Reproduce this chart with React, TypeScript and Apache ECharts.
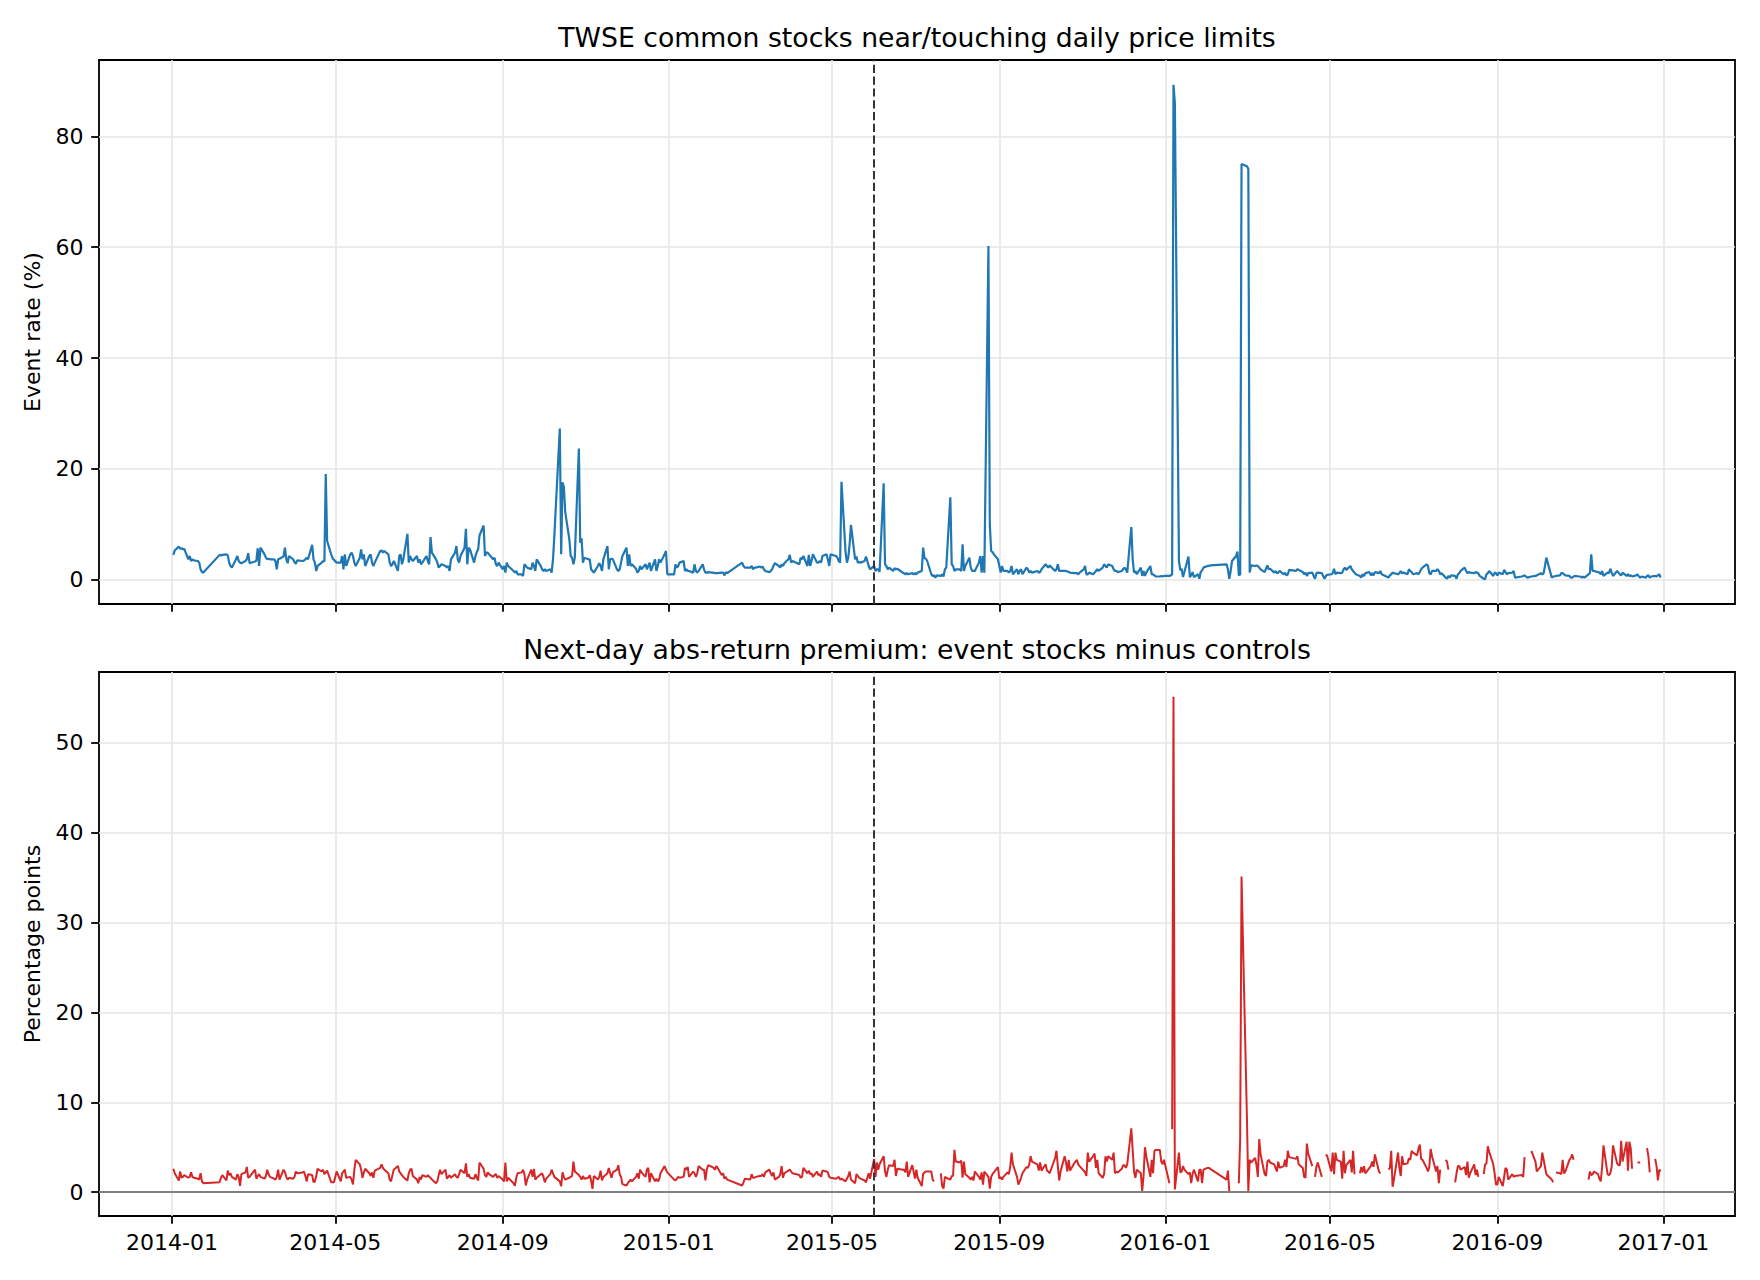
import React, { useEffect, useRef } from 'react';
import * as echarts from 'echarts';

type V = number | null;

const TITLE_TOP = 'TWSE common stocks near/touching daily price limits';
const TITLE_BOTTOM = 'Next-day abs-return premium: event stocks minus controls';
const Y_NAME_TOP = 'Event rate (%)';
const Y_NAME_BOTTOM = 'Percentage points';
const EVENT_DATE = '2015-06-01';

const X_TICKS = ['2014-01', '2014-05', '2014-09', '2015-01', '2015-05', '2015-09', '2016-01', '2016-05', '2016-09', '2017-01'];
const RATE_TICKS = [0, 20, 40, 60, 80];
const PREM_TICKS = [0, 10, 20, 30, 40, 50];

// exchange closing days (calendar used to place the daily values)
const CLOSED_DAYS = [
  '2014-01-01', '2014-01-27', '2014-01-28', '2014-01-29', '2014-01-30', '2014-01-31', '2014-02-03', '2014-02-04',
  '2014-02-28', '2014-04-04', '2014-05-01', '2014-06-02', '2014-09-08', '2014-10-10',
  '2015-01-01', '2015-01-02', '2015-02-16', '2015-02-17', '2015-02-18', '2015-02-19', '2015-02-20', '2015-02-23',
  '2015-02-27', '2015-04-03', '2015-04-06', '2015-05-01', '2015-06-19', '2015-09-28', '2015-10-09',
  '2016-01-01', '2016-02-04', '2016-02-05', '2016-02-08', '2016-02-09', '2016-02-10', '2016-02-11', '2016-02-12',
  '2016-02-29', '2016-04-04', '2016-04-05', '2016-06-09', '2016-06-10', '2016-09-15', '2016-09-16', '2016-09-27',
  '2016-09-28', '2016-10-10',
];

// Event rate (%), one array per month, one value per trading day
const rate2014: V[][] = [
  [4.5, 5.3, 6.0, 5.6, 5.7, 5.5, 5.6, 3.7, 4.3, 3.4, 3.7, 3.5, 3.4, 3.1, 1.9, 1.4, 1.3],
  [4.5, 4.4, 4.5, 4.6, 4.4, 3.1, 2.5, 2.2, 3.7, 4.3, 3.4, 3.1, 3.0, 3.4, 3.7, 4.8, 3.0],
  [3.3, 3.5, 5.7, 2.5, 5.8, 4.6, 4.0, 3.7, 3.8, 3.7, 3.7, 3.4, 1.9, 3.7, 3.8, 4.2, 5.8, 3.7, 3.0, 4.3, 3.7],
  [3.2, 2.9, 3.5, 3.4, 3.5, 3.7, 4.0, 3.7, 6.3, 3.7, 3.1, 1.6, 2.5, 3.1, 3.4, 3.3, 19.1, 7.0, 4.6, 3.9, 3.6],
  [3.1, 3.1, 4.3, 1.9, 4.6, 2.5, 4.6, 4.9, 4.3, 3.1, 2.5, 4.0, 5.5, 3.7, 4.6, 2.5, 4.3, 4.6, 3.1, 2.5, 3.1],
  [5.2, 5.3, 4.9, 5.2, 4.6, 3.1, 2.5, 2.8, 3.4, 1.6, 4.3, 4.6, 2.8, 3.7, 8.3, 3.1, 4.3, 3.7, 3.4, 4.3],
  [3.1, 3.7, 2.8, 3.1, 4.3, 3.4, 2.8, 7.7, 4.9, 3.7, 3.1, 2.2, 2.5, 2.8, 2.5, 2.2, 2.5, 1.6, 3.7, 4.9, 6.1, 3.7, 3.1],
  [4.3, 5.8, 9.2, 2.8, 5.8, 5.5, 3.1, 4.3, 5.0, 5.5, 8.0, 9.8, 4.3, 4.9, 4.9, 4.6, 3.7, 4.0, 2.8, 2.5, 3.1],
  [1.9, 2.5, 1.3, 3.1, 2.5, 1.6, 1.3, 1.6, 1.0, 1.0, 0.7, 2.8, 2.5, 2.2, 1.9, 3.1, 2.5, 1.6, 3.7, 2.5, 1.9],
  [1.6, 1.9, 1.6, 1.9, 1.3, 3.7, 8.0, 27.3, 4.6, 17.6, 16.7, 12.2, 7.3, 4.3, 4.0, 2.8, 4.0, 23.7, 6.7, 7.5, 3.1, 4.0],
  [3.7, 3.7, 1.9, 1.6, 1.3, 2.5, 3.0, 2.5, 1.6, 3.7, 6.1, 1.9, 3.7, 3.8, 3.7, 1.9, 1.6, 1.9, 3.1, 4.3],
  [5.8, 2.5, 4.6, 2.5, 2.8, 2.0, 1.3, 1.6, 2.5, 1.9, 2.8, 1.9, 2.5, 3.1, 1.6, 3.7, 1.6, 2.5, 3.7, 3.1, 4.6, 5.2, 1.0],
];
const rate2015: V[][] = [
  [1.0, 2.8, 2.2, 2.5, 3.1, 3.4, 1.6, 1.9, 1.6, 1.6, 1.3, 2.8, 1.6, 1.3, 1.6, 2.8, 1.9, 1.3, 1.3, 1.4],
  [1.3, 1.3, 1.2, 1.2, 1.2, 1.3, 1.3, 0.8, 1.4, 1.2, 3.1, 2.5, 2.2],
  [2.2, 2.5, 1.9, 2.2, 2.2, 2.4, 2.2, 2.4, 1.9, 1.6, 1.4, 1.6, 1.9, 2.5, 3.0, 2.5, 2.2, 2.8, 2.5, 3.0, 3.7, 4.5],
  [3.1, 3.4, 2.8, 4.0, 3.7, 4.3, 2.5, 4.5, 2.5, 3.4, 4.6, 3.1, 3.1, 3.4, 3.1, 4.3, 4.6, 3.7, 2.5, 4.6],
  [4.3, 4.0, 3.4, 3.1, 17.7, 5.0, 3.1, 4.0, 6.5, 9.9, 3.7, 4.2, 3.1, 3.2, 3.1, 3.4, 4.2, 3.4, 2.5, 1.9],
  [2.5, 1.6, 1.9, 1.9, 1.4, 17.4, 2.8, 2.5, 1.9, 2.2, 1.6, 2.1, 1.9, 2.0, 1.3, 1.2, 1.0, 1.2, 1.0, 1.2, 1.0],
  [1.2, 1.0, 1.3, 1.6, 5.8, 3.9, 3.8, 3.4, 1.0, 0.7, 0.8, 0.4, 0.8, 0.7, 1.0, 0.6, 1.9, 2.2, 14.9, 2.8, 2.5, 1.6, 1.9],
  [1.9, 1.6, 6.4, 1.6, 2.5, 4.0, 2.2, 1.6, 1.6, 1.6, 3.1, 4.3, 1.3, 4.3, 1.3, 60.2, 10.0, 5.2, 5.0, 4.6, 3.7],
  [2.5, 1.3, 2.5, 1.6, 1.6, 1.3, 1.6, 2.5, 1.0, 1.9, 1.0, 1.6, 1.9, 1.0, 2.2, 1.9, 1.3, 1.6, 1.3, 1.6, 1.3],
  [1.4, 1.9, 2.8, 2.5, 2.2, 2.6, 1.6, 1.9, 2.8, 1.6, 1.6, 1.6, 1.6, 1.5, 1.4, 1.3, 1.2, 1.2, 1.2, 1.0, 1.3],
  [1.9, 2.5, 1.0, 1.0, 1.3, 1.0, 1.3, 1.6, 1.9, 1.6, 2.2, 2.8, 2.5, 2.2, 2.8, 2.5, 1.9, 1.6, 1.6, 1.4, 1.6],
  [1.9, 2.2, 1.9, 1.3, 9.5, 3.7, 1.3, 1.6, 1.0, 2.2, 0.7, 1.6, 0.7, 1.3, 2.5, 1.0, 1.0, 0.8, 0.6, 0.6, 0.7, 0.6, 0.7],
];
const rate2016: V[][] = [
  [0.7, 0.8, 1.0, 89.3, 86.0, 3.4, 1.7, 2.0, 0.5, 1.4, 4.2, 0.5, 0.8, 1.4, 0.5, 1.0, 0.2, 1.4, 1.7, 2.2],
  [2.5, 2.5, 2.6, 2.8, 1.9, 0.2, 1.6, 3.4, 4.3, 5.1, 0.8, 1.0, 75.0],
  [74.6, 74.1, 1.3, 2.6, 2.5, 2.6, 2.5, 2.2, 1.9, 1.4, 2.0, 2.6, 1.9, 2.0, 1.3, 1.6, 1.2, 1.3, 1.6, 1.0, 1.3, 0.8, 1.0],
  [1.8, 1.6, 1.9, 1.8, 1.4, 1.0, 1.3, 0.7, 1.2, 1.3, 0.7, 0.2, 1.2, 1.3, 1.2, 0.7, 0.2, 0.7, 0.9],
  [1.0, 1.2, 2.0, 1.0, 1.3, 1.2, 1.3, 1.9, 2.2, 1.8, 2.5, 1.9, 1.6, 1.3, 1.0, 0.7, 0.4, 1.0, 0.7, 1.2, 1.4, 0.8],
  [1.2, 0.8, 1.4, 1.2, 1.6, 1.0, 0.4, 0.8, 1.0, 1.3, 1.2, 1.0, 1.2, 1.6, 1.2, 1.3, 1.0, 1.9, 1.6, 1.4],
  [1.0, 1.2, 1.0, 1.4, 1.9, 2.2, 2.8, 2.5, 1.2, 1.0, 1.6, 1.6, 1.9, 1.6, 1.0, 1.2, 0.4, 0.2, 0.7, 0.4, 0.8],
  [0.7, 0.2, 1.0, 1.2, 1.6, 2.2, 1.6, 1.2, 1.4, 1.3, 1.2, 1.4, 1.3, 1.2, 0.7, 0.2, 0.1, 1.0, 1.2, 1.6, 0.7, 1.3, 1.2],
  [0.8, 1.3, 1.0, 1.8, 1.4, 1.0, 1.2, 1.3, 1.6, 0.4, 0.6, 0.7, 0.8, 0.6, 0.4, 0.6, 0.7, 0.8],
  [1.2, 1.0, 1.2, 2.5, 4.0, 0.4, 0.6, 0.6, 0.7, 0.8, 1.2, 1.2, 1.0, 0.8, 0.7, 0.4, 0.4, 0.6, 0.7, 0.6],
  [0.6, 0.4, 0.6, 0.4, 1.0, 1.2, 4.6, 1.6, 1.6, 1.4, 1.3, 1.0, 1.6, 0.7, 1.3, 1.2, 2.0, 1.3, 0.7, 1.6, 1.3, 1.0],
  [0.8, 1.3, 0.7, 1.0, 0.7, 0.8, 0.6, 0.8, 1.0, 0.6, 0.4, 0.6, 0.4, 0.7, 0.8, 0.4, 0.6, 0.7, 0.6, 0.8, 1.0, 0.4],
];

// Next-day abs-return premium (pp), one array per month; null = missing
const prem2014: V[][] = [
  [2.6, 2.1, 1.3, 2.3, 1.6, 1.7, 1.9, 1.6, 1.7, 2.2, 1.7, 1.6, 1.5, 1.4, 2.1, 1.2, 1.0],
  [1.1, 1.6, 1.9, 1.3, 2.4, 1.9, 2.1, 1.7, 1.4, 2.0, 1.7, 0.7, 2.0, 2.2, 2.8, 1.6, 1.7],
  [2.5, 1.5, 1.8, 2.0, 1.7, 1.5, 1.8, 2.5, 2.0, 1.7, 1.5, 1.4, 1.7, 2.5, 1.4, 2.5, 2.2, 1.7, 1.4, 1.6, 1.5],
  [1.7, 2.3, 2.1, 2.2, 2.3, 1.8, 1.2, 2.0, 1.9, 1.1, 1.2, 1.8, 2.6, 2.3, 2.5, 2.0, 2.2, 2.4, 1.1, 1.1, 1.1],
  [2.3, 1.2, 2.1, 2.3, 2.5, 1.6, 1.7, 1.4, 0.85, 2.5, 3.6, 3.1, 2.5, 1.6, 2.2, 2.6, 2.1, 1.8, 2.2, 1.6, 2.4],
  [2.7, 3.1, 2.7, 2.5, 2.1, 1.4, 1.2, 1.9, 2.5, 2.9, 2.3, 2.1, 1.9, 1.7, 1.3, 2.1, 2.5, 2.6, 1.8, 1.4],
  [1.0, 1.7, 1.4, 1.9, 1.7, 1.9, 1.7, 1.6, 1.4, 1.0, 1.2, 1.9, 2.5, 2.0, 2.5, 1.5, 1.7, 1.9, 1.6, 2.0, 1.7, 1.6, 2.0],
  [2.5, 2.1, 3.2, 1.7, 2.0, 1.6, 1.5, 2.0, 1.6, 1.3, 3.3, 2.6, 1.9, 1.7, 2.2, 2.0, 1.7, 1.9, 2.0, 1.6, 1.8],
  [1.4, 1.2, 3.3, 1.2, 1.6, 1.0, 0.7, 1.6, 2.1, 2.2, 2.5, 2.0, 0.75, 1.4, 2.5, 1.7, 2.6, 1.4, 1.6, 2.0, 2.1],
  [1.7, 1.1, 1.5, 2.0, 2.5, 2.1, 1.7, 1.2, 0.67, 2.2, 1.7, 1.4, 1.6, 1.7, 1.8, 3.4, 2.3, 1.9, 1.7, 1.4, 1.8, 1.5],
  [1.6, 1.9, 1.3, 0.37, 1.8, 1.4, 1.7, 2.4, 1.3, 1.7, 2.1, 2.7, 2.1, 1.6, 2.2, 2.5, 3.0, 2.0, 1.7, 0.9],
  [0.74, 1.0, 1.2, 1.4, 1.2, 1.7, 2.1, 1.5, 2.5, 2.2, 1.7, 2.5, 2.7, 1.1, 2.1, 1.2, 1.5, 1.2, 1.4, 2.1, 2.9, 2.5, 2.2],
];
const prem2015: V[][] = [
  [1.4, 1.3, 1.5, 1.7, 1.6, 1.7, 2.7, 2.5, 2.8, 1.7, 2.3, 2.1, 1.7, 2.1, 2.9, 2.5, 2.5, 1.3, 2.5, 3.0],
  [2.8, 2.7, 2.5, 2.9, 2.7, 1.9, 2.1, 1.5, 1.7, 1.4, 0.74, 1.1, 1.5],
  [1.4, 2.0, 1.6, 1.6, 1.7, 1.8, 1.8, 2.0, 1.7, 2.2, 2.5, 2.1, 1.8, 2.2, 1.4, 1.7, 2.0, 2.9, 1.6, 2.1, 2.4, 2.5],
  [2.3, 2.1, 1.9, 1.6, 1.7, 2.7, 2.1, 2.4, 2.0, 2.1, 1.7, 2.3, 1.9, 2.0, 1.7, 2.4, 2.3, 2.2, 1.7, 1.6],
  [1.5, 1.6, 1.7, 1.4, 1.5, 1.2, 1.5, 1.8, 2.3, 1.4, 1.0, 2.0, 1.8, 1.6, 1.5, 1.3, 1.1, 1.6, 2.1, 1.5],
  [3.7, 1.7, 3.3, 2.5, 3.1, 4.0, 2.3, 1.7, 2.5, 3.0, 2.9, 3.6, 1.8, 2.6, 2.5, 2.5, 2.2, 3.4, 1.7, 3.0, 2.3],
  [1.5, 2.5, 1.6, 0.67, 2.0, 2.2, 2.3, 2.3, 2.3, 1.4, 1.2, null, null, 2.1, 0.67, 0.4, 1.7, 1.6, 1.4, 1.8, 1.8, 4.7, 3.4],
  [3.3, 3.5, 1.6, 3.4, 2.0, 1.6, 1.4, 1.7, 1.3, 2.3, 1.7, 1.4, 2.2, 0.85, 2.3, 1.7, 0.4, 1.7, 2.0, 2.2, 2.8],
  [1.5, 1.7, 1.4, 1.7, 2.2, 2.0, 2.8, 4.4, 3.1, 1.7, 0.85, 1.2, 1.6, 2.1, 2.8, 2.7, 3.1, 4.0, 3.4, 3.1, 2.4],
  [3.3, 2.4, 3.1, 2.4, 2.3, 2.1, 3.8, 4.6, 2.9, 1.3, 2.3, 4.0, 3.3, 2.3, 3.6, 2.4, 3.2, 3.4, 3.6, 3.1, 2.9],
  [2.4, 2.2, 1.8, 4.4, 3.4, 4.0, 4.3, 2.7, 3.6, 2.1, 1.6, 2.0, 4.0, 3.4, 4.0, 3.6, 4.4, 2.1, 2.3, 2.2, 2.6],
  [3.0, 3.0, 2.7, 3.1, 7.1, 4.7, 2.3, 1.6, 2.5, 2.1, 0.1, 1.8, 5.0, 4.0, 1.7, 3.6, 2.1, 4.6, 4.7, 4.7, 3.4, 3.1, 3.6],
];
const prem2016: V[][] = [
  [1.0, null, 7.0, 55.1, 0.3, 4.4, 2.2, 2.3, 2.9, 2.5, 2.0, 2.2, 1.0, 2.0, 2.5, 1.2, 2.5, 2.5, 1.0, 2.5],
  [2.7, 2.7, 2.6, 1.4, 2.4, 0.1, null, null, null, null, 1.0, 5.9, 35.1],
  [8.0, 0.1, 3.6, 3.3, 3.8, 3.0, 1.7, 5.9, 4.2, 2.0, 1.8, 3.4, 3.6, 3.3, 3.1, 2.7, 2.3, 3.4, 2.7, 2.9, 3.6, 2.8, 4.6],
  [3.9, 3.7, 4.0, 3.1, 2.7, 1.7, 1.6, 5.4, 4.3, 2.9, null, 1.7, 2.8, 3.3, 1.7, null, null, 4.2, 4.0],
  [2.3, 4.4, 2.0, 4.4, 3.6, 3.4, 1.5, 4.6, 2.1, 3.0, 3.6, 2.2, 4.6, 2.0, null, 2.1, 2.8, 2.2, 2.9, 2.1, 2.7, 2.9],
  [3.4, 2.8, 4.2, 2.3, 2.1, null, 2.5, 2.7, 4.6, 0.6, 1.4, 4.4, 2.7, 1.8, 4.0, 3.1, 3.2, 3.8, 3.6, 4.6],
  [4.4, 4.1, 4.8, 5.3, 3.7, 3.6, 2.7, 2.3, 2.8, 4.8, 4.0, 2.3, 2.9, 1.0, 2.5, null, 3.6, 3.4, 2.5, null, null],
  [1.1, 2.1, 2.9, 2.9, 2.5, 2.8, 1.9, 3.4, 1.6, 2.1, 3.1, 1.9, 2.5, 1.7, null, 2.0, 3.1, 3.2, 5.1, 4.5, 3.1, 2.1, 0.85],
  [0.85, 1.7, 0.67, 1.7, 2.7, 2.5, 1.4, 2.0, 1.7, 1.8, 1.9, 1.7, 3.9, null, null, 4.6, 3.4, 2.3],
  [2.9, 4.4, 3.6, 2.8, 2.0, 1.4, 1.1, null, 2.2, 2.1, 2.0, 3.6, 2.1, 2.3, 3.6, 3.8, 4.2, 3.6, null, null],
  [null, null, null, null, 1.4, 2.3, 1.9, 2.0, 2.3, 2.0, 1.5, 1.2, 2.8, 5.2, 2.0, 1.9, 2.1, 2.8, 5.2, 3.2, 3.0, 3.0],
  [5.7, 3.4, 5.6, 2.4, 5.6, 4.9, 2.6, null, 3.3, 3.3, 3.3, null, null, 4.9, 4.0, 2.2, null, 3.7, 2.9, 1.3, 2.5, 2.3],
];

const FONT = 'DejaVu Sans';
const BLUE = '#1f77b4';
const RED = '#d62728';

function pad2(n: number) {
  return n < 10 ? '0' + n : '' + n;
}
function toTime(s: string) {
  const p = s.split('-').map(Number);
  return new Date(p[0], p[1] - 1, p[2] || 1).getTime();
}
const closedSet = new Set(CLOSED_DAYS);
function tradingDays(year: number, month: number): number[] {
  const out: number[] = [];
  for (let d = 1; d <= 31; d++) {
    const dt = new Date(year, month, d);
    if (dt.getMonth() !== month) break;
    const wd = dt.getDay();
    if (wd === 0 || wd === 6) continue;
    if (closedSet.has(`${year}-${pad2(month + 1)}-${pad2(d)}`)) continue;
    out.push(dt.getTime());
  }
  return out;
}
function build(years: [number, V[][]][]): [number, V][] {
  const out: [number, V][] = [];
  years.forEach(([y, months]) => {
    months.forEach((vals, m) => {
      const days = tradingDays(y, m);
      const n = vals.length;
      const k = days.length;
      vals.forEach((v, i) => {
        let t: number;
        if (n === k) t = days[i];
        else {
          const f = n <= 1 ? 0 : (i * (k - 1)) / (n - 1);
          const lo = Math.floor(f);
          const hi = Math.min(k - 1, lo + 1);
          t = days[lo] + (days[hi] - days[lo]) * (f - lo);
        }
        out.push([t, v]);
      });
    });
  });
  return out;
}
function yExtent(data: [number, V][]) {
  const vals = data.map((d) => d[1]).filter((v): v is number => v != null);
  const mn = Math.min(...vals);
  const mx = Math.max(...vals);
  const p = (mx - mn) * 0.05;
  return [mn - p, mx + p];
}

const GRID_LEFT = 99;
const GRID_W = 1636;
const GRID_H = 544;
const TOP1 = 60;
const TOP2 = 672;
const TICK_LEN = 7.8;
const AX_W = 1.8;

export default function App() {
  const ref = useRef<HTMLDivElement>(null);
  useEffect(() => {
    if (!ref.current) return;
    const chart = echarts.init(ref.current, undefined, { renderer: 'svg' });
    const rateData = build([[2014, rate2014], [2015, rate2015], [2016, rate2016]]);
    const premData = build([[2014, prem2014], [2015, prem2015], [2016, prem2016]]);
    const t0 = rateData[0][0];
    const t1 = rateData[rateData.length - 1][0];
    const xp = (t1 - t0) * 0.05;
    const xTicks = X_TICKS.map(toTime);
    const [r0, r1] = yExtent(rateData);
    const [p0, p1] = yExtent(premData);
    const evT = toTime(EVENT_DATE);

    const split = { show: true, lineStyle: { color: '#e6e6e6', width: 1.6 } };
    const tickStyle = { color: '#000', width: AX_W };
    const labelBase = { color: '#000', fontSize: 22, fontFamily: FONT };

    const xAxis = (gi: number, showLabel: boolean) => ({
      type: 'value',
      gridIndex: gi,
      position: 'bottom',
      min: t0 - xp,
      max: t1 + xp,
      axisLine: { show: false, onZero: false },
      axisTick: { show: true, customValues: xTicks, length: TICK_LEN, lineStyle: tickStyle },
      axisLabel: {
        show: showLabel,
        customValues: xTicks,
        margin: 15.5,
        ...labelBase,
        formatter: (v: number) => {
          const d = new Date(v);
          return d.getFullYear() + '-' + pad2(d.getMonth() + 1);
        },
      },
      splitLine: split,
    });
    const yAxis = (gi: number, mn: number, mx: number, ticks: number[], name: string) => ({
      type: 'value',
      gridIndex: gi,
      position: 'left',
      min: mn,
      max: mx,
      axisLine: { show: false, onZero: false },
      axisTick: { show: true, customValues: ticks, length: TICK_LEN, lineStyle: tickStyle },
      axisLabel: { customValues: ticks, margin: 15.5, ...labelBase },
      splitLine: split,
      name,
      nameLocation: 'middle',
      nameGap: 55.5,
      nameMoveOverlap: false,
      nameTextStyle: { ...labelBase },
    });
    const dashed = { color: '#333', width: 2, type: [8.2, 3.6] };

    chart.setOption({
      animation: false,
      backgroundColor: '#fff',
      grid: [
        { left: GRID_LEFT, top: TOP1, width: GRID_W, height: GRID_H, show: true, borderColor: '#000', borderWidth: AX_W, outerBoundsMode: 'none' },
        { left: GRID_LEFT, top: TOP2, width: GRID_W, height: GRID_H, show: true, borderColor: '#000', borderWidth: AX_W, outerBoundsMode: 'none' },
      ],
      xAxis: [xAxis(0, false), xAxis(1, true)],
      yAxis: [
        yAxis(0, r0, r1, RATE_TICKS, Y_NAME_TOP),
        yAxis(1, p0, p1, PREM_TICKS, Y_NAME_BOTTOM),
      ],
      graphic: [
        {
          type: 'text', x: GRID_LEFT + GRID_W / 2, y: 37.5,
          style: { text: TITLE_TOP, fontSize: 26.7, fontFamily: FONT, fill: '#000', align: 'center', verticalAlign: 'middle', textAlign: 'center', textVerticalAlign: 'middle' },
        },
        {
          type: 'text', x: GRID_LEFT + GRID_W / 2, y: 649.5,
          style: { text: TITLE_BOTTOM, fontSize: 26.7, fontFamily: FONT, fill: '#000', align: 'center', verticalAlign: 'middle', textAlign: 'center', textVerticalAlign: 'middle' },
        },
      ],
      series: [
        {
          type: 'line',
          xAxisIndex: 0,
          yAxisIndex: 0,
          data: rateData.map(([t, v]) => [t, v == null ? '-' : v]),
          showSymbol: false,
          symbol: 'none',
          connectNulls: false,
          silent: true,
          lineStyle: { color: BLUE, width: 2.2 },
          itemStyle: { color: BLUE },
          markLine: {
            silent: true,
            symbol: ['none', 'none'],
            label: { show: false },
            lineStyle: dashed,
            data: [{ xAxis: evT }],
          },
        },
        {
          type: 'line',
          xAxisIndex: 1,
          yAxisIndex: 1,
          data: premData.map(([t, v]) => [t, v == null ? '-' : v]),
          showSymbol: false,
          symbol: 'none',
          connectNulls: false,
          silent: true,
          lineStyle: { color: RED, width: 2 },
          itemStyle: { color: RED },
          markLine: {
            silent: true,
            symbol: ['none', 'none'],
            label: { show: false },
            data: [
              { xAxis: evT, lineStyle: dashed },
              { yAxis: 0, lineStyle: { color: '#808080', width: 2, type: 'solid' } },
            ],
          },
        },
      ],
    });
    return () => chart.dispose();
  }, []);
  return <div ref={ref} style={{ position: 'fixed', left: 0, top: 0, width: 1760, height: 1280 }} />;
}
